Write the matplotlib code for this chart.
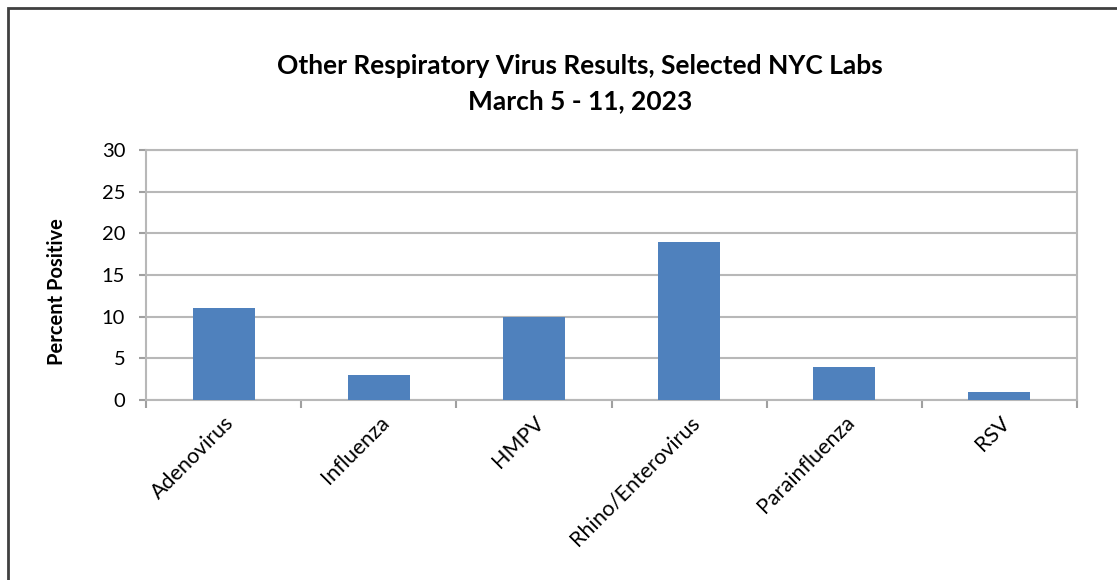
import matplotlib
matplotlib.use("Agg")
import matplotlib.pyplot as plt
from matplotlib.patches import Rectangle
import numpy as np

# data
viruses = ["Adenovirus", "Influenza", "HMPV", "Rhino/Enterovirus", "Parainfluenza", "RSV"]
pct_positive = [11, 3, 10, 19, 4, 1]
y_ticks = [0, 5, 10, 15, 20, 25, 30]

plt.rcParams['font.family'] = ['Lato', 'DejaVu Sans']

fig = plt.figure(figsize=(11.17, 5.80), dpi=100)
ax = fig.add_axes([0.1307, 0.3103, 0.8335, 0.4310])

x = np.arange(len(viruses))
ax.bar(x, pct_positive, width=0.4, color='#4f81bd', zorder=3)

ax.set_xlim(-0.5, len(viruses) - 0.5)
ax.set_ylim(0, 30)
ax.set_yticks(y_ticks)
ax.yaxis.grid(True, color='#b8b8b8', linewidth=1.5, zorder=0)

# category ticks on the boundaries, labels at the centres
ax.set_xticks(np.arange(len(viruses) + 1) - 0.5)
ax.set_xticklabels([])
ax.set_xticks(x, minor=True)
ax.set_xticklabels(viruses, minor=True, rotation=45, ha='right',
                   rotation_mode='anchor', fontsize=15.5)
ax.tick_params(axis='x', which='minor', length=0, pad=9)
ax.tick_params(axis='x', which='major', length=6, width=1.5, color='#a0a0a0')
ax.tick_params(axis='y', length=5, width=1.5, color='#a0a0a0', labelsize=14.5, pad=10)

for s in ax.spines.values():
    s.set_color('#b8b8b8')
    s.set_linewidth(1.5)

fig.text(0.519, 0.887, "Other Respiratory Virus Results, Selected NYC Labs",
         ha='center', va='center', fontsize=19, fontweight='bold')
fig.text(0.519, 0.826, "March 5 - 11, 2023",
         ha='center', va='center', fontsize=19, fontweight='bold')
fig.text(0.051, 0.497, "Percent Positive", rotation=90, ha='center', va='center',
         fontsize=14.5, fontweight='bold')

# outer chart border (runs off the right and bottom edges)
fig.patches.append(Rectangle((0.0072, -0.05), 1.1, 1.036, transform=fig.transFigure,
                             fill=False, edgecolor='#404040', linewidth=2))

fig.savefig("out.png", dpi=100)
